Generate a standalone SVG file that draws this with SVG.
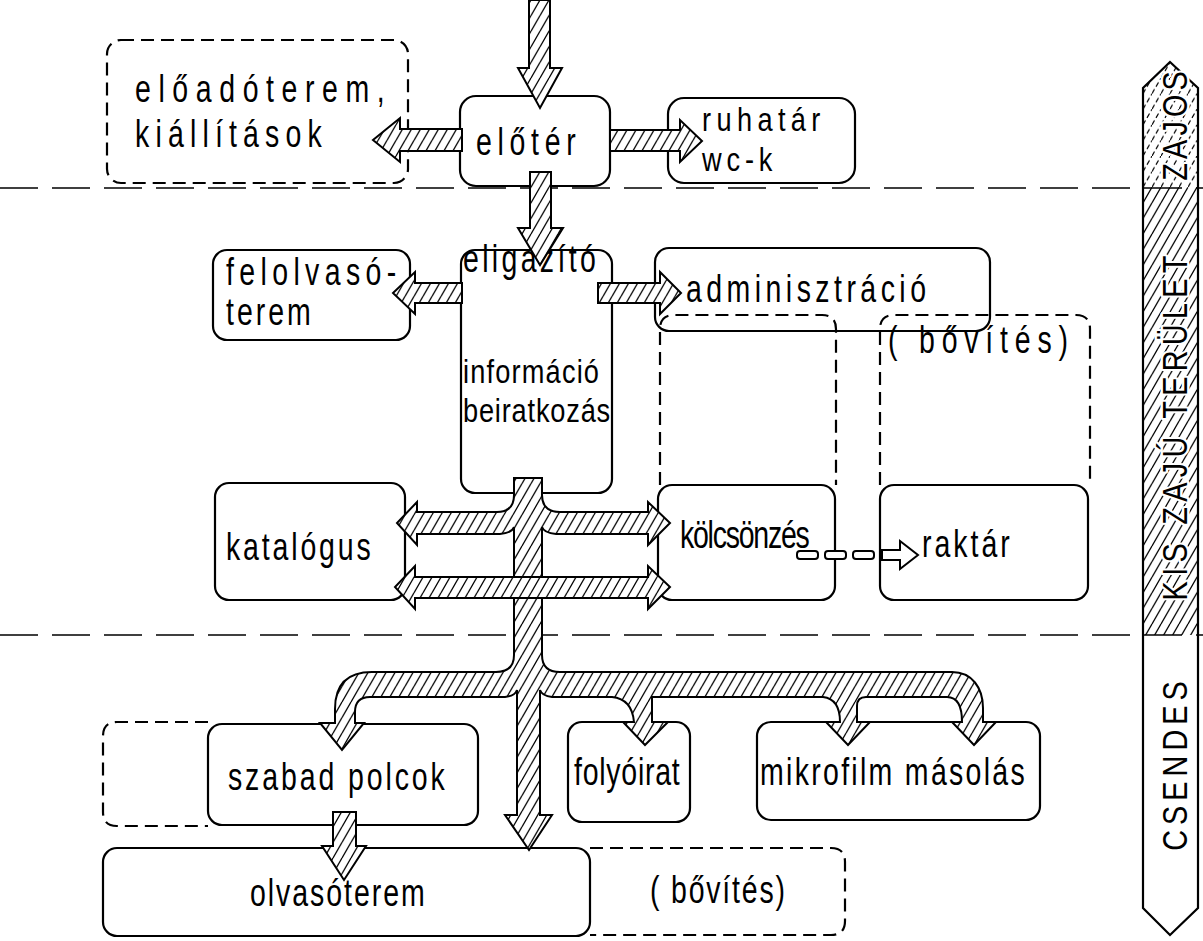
<svg xmlns="http://www.w3.org/2000/svg" width="1203" height="941" viewBox="0 0 1203 941">
<defs>
<pattern id="hatch" patternUnits="userSpaceOnUse" width="9" height="15.6">
<rect width="9" height="15.6" fill="#fff"/>
<path d="M-9,15.6 L0,0 M0,15.6 L9,0 M9,15.6 L18,0" stroke="#000" stroke-width="1.3"/>
</pattern>
<pattern id="hatchDash" patternUnits="userSpaceOnUse" width="9" height="15.6">
<rect width="9" height="15.6" fill="#fff"/>
<path d="M0,15.6 L9,0" stroke="#000" stroke-width="1.2" stroke-dasharray="5 3"/>
</pattern>
<clipPath id="barClip"><polygon points="1170,62 1198,88 1198,908 1170,935 1143,908 1143,88"/></clipPath>
<style>
.box{fill:#fff;stroke:#000;stroke-width:2.2}
.dbox{fill:none;stroke:#000;stroke-width:2.2;stroke-dasharray:13 7}
.sep{fill:none;stroke:#000;stroke-width:1.6;stroke-dasharray:38 14}
.arr{fill:url(#hatch);stroke:#000;stroke-width:2;stroke-linejoin:miter}
.lbl{font-family:"Liberation Sans",Arial,sans-serif;font-size:38px;fill:#000}
.sm{font-size:34px}
.side{font-family:"Liberation Sans",Arial,sans-serif;font-size:36px;fill:#000;stroke:#fff;stroke-width:5;paint-order:stroke;stroke-linejoin:round}
</style>
</defs>
<rect width="1203" height="941" fill="#fff"/>

<g id="zone-bar">
<g clip-path="url(#barClip)">
<rect x="1140" y="60" width="62" height="128" fill="url(#hatchDash)"/>
<rect x="1140" y="188" width="62" height="447" fill="url(#hatch)"/>
<rect x="1140" y="635" width="62" height="302" fill="#fff"/>
</g>
<polygon points="1170,62 1198,88 1198,908 1170,935 1143,908 1143,88" fill="none" stroke="#000" stroke-width="2.2"/>
<text class="side" transform="translate(1187,126) rotate(-90) scale(0.8,1)" text-anchor="middle" textLength="137">ZAJOS</text>
<text class="side" transform="translate(1187,428) rotate(-90) scale(0.8,1)" text-anchor="middle" textLength="431">KIS ZAJÚ TERÜLET</text>
<text class="side" transform="translate(1187,766) rotate(-90) scale(0.8,1)" text-anchor="middle" textLength="212">CSENDES</text>
</g>

<g id="separators">
<line class="sep" x1="0" y1="188" x2="1203" y2="188"/>
<line class="sep" x1="0" y1="635" x2="1203" y2="635"/>
</g>

<g id="node-eloadoterem">
<rect class="dbox" x="107" y="40" width="301" height="143" rx="14"/>
<text class="lbl" transform="translate(135,102) scale(0.75,1)" textLength="333">előadóterem,</text>
<text class="lbl" transform="translate(135,147) scale(0.75,1)" textLength="249">kiállítások</text>
</g>
<g id="node-eloter">
<rect class="box" x="460" y="96" width="150" height="90" rx="16"/>
<text class="lbl" transform="translate(476,155) scale(0.75,1)" textLength="133">előtér</text>
</g>
<g id="node-ruhatar">
<rect class="box" x="668" y="98" width="187" height="85" rx="16"/>
<text class="lbl sm" transform="translate(702,131) scale(0.8,1)" textLength="148">ruhatár</text>
<text class="lbl sm" transform="translate(702,171) scale(0.8,1)" textLength="88">wc-k</text>
</g>
<g id="node-eligazito">
<rect class="box" x="461" y="250" width="151" height="243" rx="14"/>
<text class="lbl" transform="translate(463,272) scale(0.75,1)" textLength="177">eligazító</text>
<text class="lbl sm" transform="translate(463,383) scale(0.8,1)" textLength="170">információ</text>
<text class="lbl sm" transform="translate(463,422) scale(0.8,1)" textLength="184">beiratkozás</text>
</g>
<g id="node-felolvaso">
<rect class="box" x="213" y="250" width="197" height="90" rx="14"/>
<text class="lbl" transform="translate(226,285) scale(0.75,1)" textLength="227">felolvasó-</text>
<text class="lbl" transform="translate(226,325) scale(0.75,1)" textLength="113">terem</text>
</g>
<g id="node-adminisztracio">
<rect class="box" x="655" y="248" width="335" height="83" rx="14"/>
<text class="lbl" transform="translate(686,302) scale(0.75,1)" textLength="320">adminisztráció</text>
</g>
<g id="node-bovites-kolcsonzes">
<path class="dbox" d="M660,485 L660,329 Q660,315 674,315 L822,315 Q836,315 836,329 L836,485"/>
</g>
<g id="node-bovites-raktar">
<path class="dbox" d="M880,485 L880,329 Q880,315 894,315 L1076,315 Q1090,315 1090,329 L1090,485"/>
<text class="lbl" transform="translate(888,353) scale(0.75,1)" textLength="240">( bővítés)</text>
</g>
<g id="node-katalogus">
<rect class="box" x="215" y="483" width="190" height="117" rx="14"/>
<text class="lbl" transform="translate(226,560) scale(0.75,1)" textLength="193">katalógus</text>
</g>
<g id="node-kolcsonzes">
<rect class="box" x="658" y="485" width="177" height="115" rx="14"/>
<text class="lbl" transform="translate(680,548) scale(0.75,1)" textLength="173">kölcsönzés</text>
</g>
<g id="node-raktar">
<rect class="box" x="880" y="485" width="208" height="115" rx="14"/>
<text class="lbl" transform="translate(922,557) scale(0.75,1)" textLength="117">raktár</text>
</g>
<g id="node-bovites-polcok">
<path class="dbox" d="M208,722 L117,722 Q103,722 103,736 L103,812 Q103,826 117,826 L208,826"/>
</g>
<g id="node-szabad-polcok">
<rect class="box" x="208" y="724" width="270" height="101" rx="14"/>
<text class="lbl" transform="translate(228,790) scale(0.75,1)" textLength="289">szabad polcok</text>
</g>
<g id="node-folyoirat">
<rect class="box" x="568" y="722" width="122" height="100" rx="14"/>
<text class="lbl" transform="translate(574,785) scale(0.75,1)" textLength="141">folyóirat</text>
</g>
<g id="node-mikrofilm">
<rect class="box" x="757" y="722" width="283" height="98" rx="14"/>
<text class="lbl" transform="translate(760,785) scale(0.75,1)" textLength="353">mikrofilm másolás</text>
</g>
<g id="node-olvasoterem">
<rect class="box" x="103" y="848" width="487" height="88" rx="14"/>
<text class="lbl" transform="translate(250,906) scale(0.75,1)" textLength="233">olvasóterem</text>
</g>
<g id="node-bovites-olvaso">
<path class="dbox" d="M590,848 L831,848 Q845,848 845,862 L845,921 Q845,935 831,935 L590,935"/>
<text class="lbl" transform="translate(650,903) scale(0.75,1)" textLength="180">( bővítés)</text>
</g>

<g id="connectors">
<path class="arr" d="M529,0 L550,0 L550,68 L562,68 L540,108 L518,68 L529,68 Z"/>
<path class="arr" d="M462,129 L400,129 L400,118 L373,140 L400,162 L400,151 L462,151 Z"/>
<path class="arr" d="M610,130 L680,130 L680,120 L702,141 L680,162 L680,151 L610,151 Z"/>
<path class="arr" d="M530,172 L551,172 L551,228 L563,228 L540,265 L518,228 L530,228 Z"/>
<path class="arr" d="M462,283 L415,283 L415,272 L393,293 L415,314 L415,303 L462,303 Z"/>
<path class="arr" d="M598,283 L660,283 L660,272 L681,293 L660,314 L660,303 L598,303 Z"/>
<path class="arr" d="M514,478 L514,495 Q514,512 497,512 L417,512 L417,502 L397,523 L417,545 L417,534 L500,534 Q512,533 514,527 L514,655 Q514,672 496,672 L372,672 Q335,672 335,709 L335,723 L320,723 L342,750 L364,723 L355,723 L355,712 Q355,697 370,697 L505,697 Q515,696 517,690 L517,815 L505,815 L529,850 L552,815 L540,815 L540,690 Q542,696 552,697 L612,697 Q632,699 634,722 L623,722 L645,745 L668,722 L652,722 L652,697 L823,697 Q840,699 840,722 L826,722 L848,745 L870,722 L857,722 L857,706 Q857,697 866,697 L947,697 Q962,697 962,722 L952,722 L974,745 L996,722 L983,722 L983,708 C983,688 972,672 952,672 L560,672 Q542,672 542,655 L542,527 Q544,533 556,534 L648,534 L648,545 L670,523 L648,502 L648,512 L560,512 Q542,512 542,495 L542,478 Z"/>
<path class="arr" d="M415,577 L415,566 L395,587 L415,609 L415,598 L648,598 L648,609 L670,587 L648,566 L648,577 Z"/>
<path class="arr" d="M333,812 L356,812 L356,846 L366,846 L344,880 L322,846 L333,846 Z"/>
<g fill="#fff" stroke="#000" stroke-width="2">
<rect x="797" y="551" width="21" height="8" rx="3"/>
<rect x="825" y="551" width="21" height="8" rx="3"/>
<rect x="853" y="551" width="21" height="8" rx="3"/>
<path d="M882,550 L900,550 L900,541 L918,555 L900,569 L900,560 L882,560 Z" stroke-linejoin="miter"/>
</g>
</g>
</svg>
